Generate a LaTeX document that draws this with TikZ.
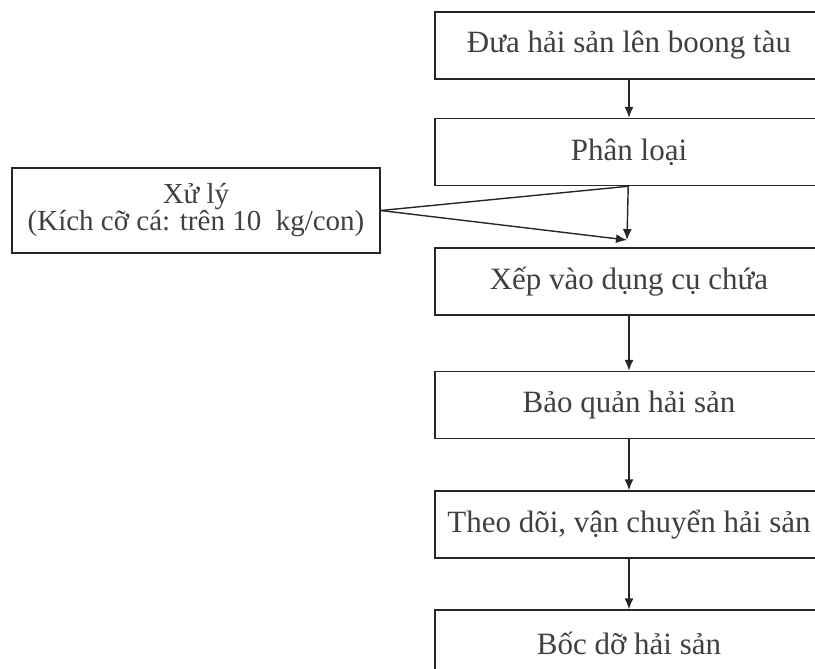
\documentclass[tikz,border=0pt]{standalone}
\usepackage{fontspec}
\setmainfont{Liberation Serif}
\usepackage{tikz}
\usetikzlibrary{arrows.meta}

\begin{document}
\begin{tikzpicture}[x=1pt,y=-1pt,
  buoc/.style={draw=black!85, line width=1.4pt, minimum width=388pt, minimum height=67pt,
    text=black!75, font=\fontsize{31}{31}\selectfont, inner sep=0pt},
  muiten/.style={-{Latex[length=11pt,width=9pt]}, line width=1.4pt, draw=black!85}]
%page
\clip (0,0) rectangle (815,669);
%steps down the right side
\node[buoc] (dua) at (629,45.5) {Đưa hải sản lên boong tàu};
\node[buoc] (phan) at (629,152) {Phân loại};
\node[buoc] (xep) at (629,281.5) {Xếp vào dụng cụ chứa};
\node[buoc] (baoquan) at (629,405) {Bảo quản hải sản};
\node[buoc] (theodoi) at (629,524.5) {Theo dõi, vận chuyển hải sản};
\node[buoc] (bocdo) at (629,643.5) {Bốc dỡ hải sản};
%side box
\node[buoc, minimum width=368pt, minimum height=85pt, align=center,
  font=\fontsize{29}{27}\selectfont] (xuly) at (196,210.5)
  {Xử lý\\(Kích cỡ cá: trên 10~~kg/con)};
%arrows
\coordinate (tip) at (627,240);
\draw[muiten] (dua) -- (phan);
\draw[muiten] (phan) -- (tip);
\draw[line width=1.4pt, draw=black!85] (xuly.east) -- (phan.south);
\draw[muiten] (xuly.east) -- (tip);
\draw[muiten] (xep) -- (baoquan);
\draw[muiten] (baoquan) -- (theodoi);
\draw[muiten] (theodoi) -- (bocdo);
\end{tikzpicture}
\end{document}
